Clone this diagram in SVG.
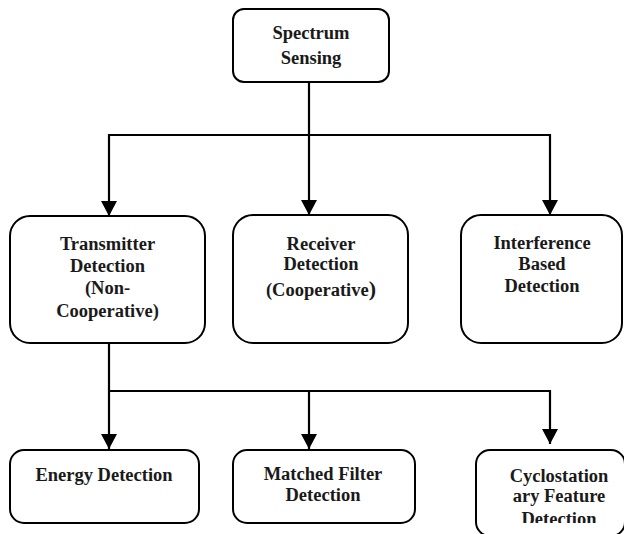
<svg xmlns="http://www.w3.org/2000/svg" width="624" height="534" viewBox="0 0 624 534">
<style>
.box{fill:#fff;stroke:#000;stroke-width:2}
.t{font-family:"Liberation Serif","Times New Roman",serif;font-weight:bold;font-size:18.5px;fill:#1a1a1a;text-anchor:middle}
.c{fill:none;stroke:#000;stroke-width:2.2}
</style>
<defs>
<marker id="arr" viewBox="0 0 15 16" refX="15" refY="8" markerWidth="15" markerHeight="16" markerUnits="userSpaceOnUse" orient="auto">
<path d="M0,0 L15,8 L0,16 z" fill="#000"/>
</marker>
<clipPath id="cyc"><rect x="470" y="440" width="160" height="83"/></clipPath>
</defs>
<rect width="624" height="534" fill="#fff"/>
<g id="connectors">
<path class="c" d="M309,82 V215" marker-end="url(#arr)"/>
<path class="c" d="M109,135 H550"/>
<path class="c" d="M109,134 V216" marker-end="url(#arr)"/>
<path class="c" d="M550,134 V215" marker-end="url(#arr)"/>
<path class="c" d="M109,343 V449" marker-end="url(#arr)"/>
<path class="c" d="M108,391 H550"/>
<path class="c" d="M309,390 V449" marker-end="url(#arr)"/>
<path class="c" d="M550,390 V444" marker-end="url(#arr)"/>
</g>
<g id="spectrum">
<rect class="box" x="233" y="9" width="156" height="73" rx="11"/>
<text class="t" x="311" y="39">Spectrum</text>
<text class="t" x="311" y="64">Sensing</text>
</g>
<g id="transmitter">
<rect class="box" x="10" y="216" width="195" height="127" rx="20"/>
<text class="t" x="107.5" y="250">Transmitter</text>
<text class="t" x="107.5" y="272">Detection</text>
<text class="t" x="107.5" y="294">(Non-</text>
<text class="t" x="107.5" y="317">Cooperative)</text>
</g>
<g id="receiver">
<rect class="box" x="233" y="215" width="175" height="128" rx="20"/>
<text class="t" x="321" y="250">Receiver</text>
<text class="t" x="321" y="270">Detection</text>
<text class="t" x="321" y="296">(Cooperative<tspan font-size="22px">)</tspan></text>
</g>
<g id="interference">
<rect class="box" x="461" y="215" width="161" height="128" rx="20"/>
<text class="t" x="542" y="249">Interference</text>
<text class="t" x="542" y="270">Based</text>
<text class="t" x="542" y="292">Detection</text>
</g>
<g id="energy">
<rect class="box" x="10" y="450" width="189" height="73" rx="14"/>
<text class="t" x="104" y="481">Energy Detection</text>
</g>
<g id="matched">
<rect class="box" x="233" y="450" width="182" height="73" rx="14"/>
<text class="t" x="323" y="480">Matched Filter</text>
<text class="t" x="323" y="501">Detection</text>
</g>
<g id="cyclo">
<rect class="box" x="476" y="450" width="149" height="86" rx="14"/>
<g clip-path="url(#cyc)">
<text class="t" x="559" y="482">Cyclostation</text>
<text class="t" x="559" y="502">ary Feature</text>
<text class="t" x="559" y="525">Detection</text>
</g>
</g>
</svg>
